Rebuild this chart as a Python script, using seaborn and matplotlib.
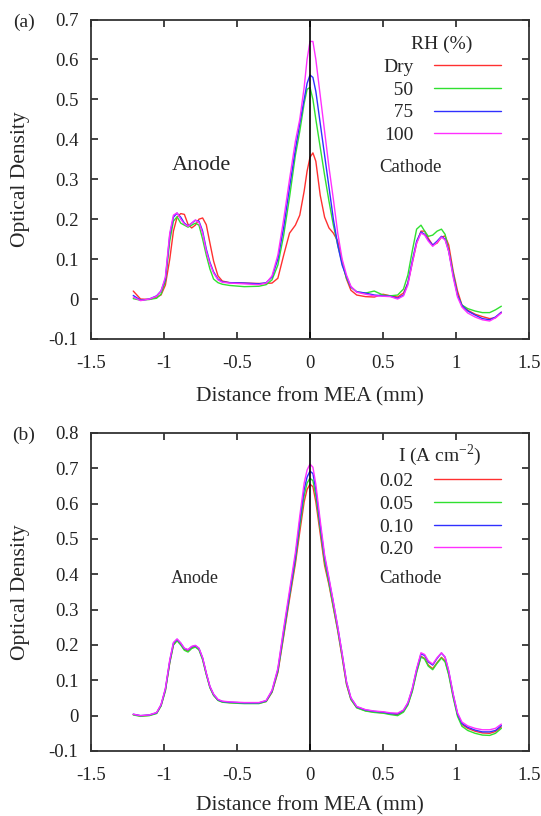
import numpy as np
import pandas as pd
import seaborn as sns
import matplotlib.pyplot as plt
from matplotlib.ticker import FuncFormatter, MultipleLocator

# positions along the cell (mm), shared by all curves
dist = [-1.21, -1.16, -1.10, -1.05, -1.02, -0.99, -0.96, -0.935, -0.91, -0.885,
        -0.86, -0.835, -0.81, -0.785, -0.76, -0.735, -0.71, -0.685, -0.66, -0.63,
        -0.60, -0.55, -0.45, -0.35, -0.30, -0.26, -0.22, -0.18, -0.14, -0.10,
        -0.07, -0.04, -0.02, 0.0, 0.02, 0.04, 0.07, 0.10, 0.13, 0.16,
        0.19, 0.22, 0.25, 0.28, 0.32, 0.38, 0.44, 0.50, 0.55, 0.60,
        0.64, 0.67, 0.70, 0.73, 0.76, 0.785, 0.81, 0.84, 0.87, 0.90,
        0.925, 0.95, 0.98, 1.01, 1.04, 1.08, 1.13, 1.18, 1.23, 1.27, 1.31]

# (a) relative humidity
rh_labels = ["Dry", "\u200750", "\u200775", "100"]
od_dry = [0.020, 0.000, -0.001, 0.005, 0.010, 0.035, 0.100, 0.170, 0.205, 0.214,
          0.212, 0.187, 0.178, 0.185, 0.200, 0.203, 0.186, 0.140, 0.095, 0.058,
          0.045, 0.041, 0.040, 0.039, 0.039, 0.040, 0.052, 0.110, 0.165, 0.185,
          0.210, 0.270, 0.320, 0.355, 0.366, 0.345, 0.260, 0.205, 0.178, 0.165,
          0.145, 0.095, 0.050, 0.022, 0.010, 0.006, 0.005, 0.012, 0.008, 0.005,
          0.015, 0.040, 0.090, 0.140, 0.170, 0.170, 0.152, 0.135, 0.140, 0.155,
          0.158, 0.135, 0.070, 0.020, -0.015, -0.028, -0.038, -0.044, -0.049, -0.047, -0.033]
od_rh50 = [0.001, -0.003, -0.001, 0.002, 0.012, 0.045, 0.145, 0.195, 0.206, 0.190,
           0.185, 0.180, 0.185, 0.190, 0.185, 0.150, 0.110, 0.075, 0.050, 0.041,
           0.037, 0.034, 0.031, 0.032, 0.036, 0.048, 0.085, 0.160, 0.255, 0.360,
           0.420, 0.490, 0.525, 0.530, 0.500, 0.450, 0.380, 0.310, 0.245, 0.185,
           0.135, 0.090, 0.052, 0.030, 0.018, 0.015, 0.020, 0.010, 0.008, 0.010,
           0.025, 0.060, 0.120, 0.175, 0.185, 0.170, 0.157, 0.160, 0.170, 0.175,
           0.162, 0.120, 0.065, 0.010, -0.015, -0.024, -0.030, -0.034, -0.034, -0.027, -0.018]
od_rh75 = [0.009, -0.003, 0.000, 0.008, 0.020, 0.050, 0.160, 0.205, 0.215, 0.205,
           0.190, 0.183, 0.190, 0.197, 0.195, 0.170, 0.125, 0.092, 0.068, 0.050,
           0.043, 0.041, 0.040, 0.038, 0.041, 0.055, 0.100, 0.180, 0.280, 0.375,
           0.440, 0.500, 0.540, 0.561, 0.555, 0.520, 0.440, 0.360, 0.280, 0.200,
           0.135, 0.085, 0.056, 0.030, 0.018, 0.015, 0.010, 0.008, 0.007, 0.002,
           0.010, 0.040, 0.095, 0.145, 0.168, 0.162, 0.148, 0.135, 0.145, 0.157,
           0.150, 0.120, 0.060, 0.010, -0.016, -0.030, -0.040, -0.049, -0.052, -0.045, -0.033]
od_rh100 = [0.005, -0.004, 0.000, 0.007, 0.020, 0.055, 0.165, 0.210, 0.216, 0.200,
            0.188, 0.182, 0.190, 0.198, 0.192, 0.165, 0.120, 0.088, 0.065, 0.048,
            0.042, 0.040, 0.038, 0.036, 0.040, 0.058, 0.110, 0.200, 0.300, 0.395,
            0.450, 0.530, 0.600, 0.645, 0.645, 0.600, 0.510, 0.420, 0.330, 0.250,
            0.165, 0.100, 0.060, 0.032, 0.017, 0.012, 0.008, 0.007, 0.006, 0.000,
            0.008, 0.035, 0.090, 0.140, 0.165, 0.160, 0.145, 0.132, 0.142, 0.155,
            0.148, 0.118, 0.055, 0.005, -0.020, -0.035, -0.045, -0.052, -0.055, -0.047, -0.035]

# (b) current density
cur_labels = ["0.02", "0.05", "0.10", "0.20"]
od_i002 = [0.003, -0.001, 0.001, 0.007, 0.028, 0.072, 0.150, 0.200, 0.213, 0.202,
           0.187, 0.182, 0.192, 0.196, 0.188, 0.160, 0.118, 0.080, 0.058, 0.044,
           0.039, 0.037, 0.035, 0.035, 0.040, 0.066, 0.122, 0.225, 0.330, 0.430,
           0.520, 0.605, 0.640, 0.655, 0.648, 0.605, 0.515, 0.425, 0.370, 0.305,
           0.240, 0.165, 0.088, 0.046, 0.023, 0.014, 0.010, 0.008, 0.005, 0.003,
           0.012, 0.032, 0.070, 0.125, 0.168, 0.162, 0.143, 0.133, 0.150, 0.165,
           0.155, 0.118, 0.055, 0.002, -0.025, -0.036, -0.044, -0.049, -0.050, -0.045, -0.032]
od_i005 = [0.002, -0.002, 0.000, 0.006, 0.027, 0.070, 0.150, 0.200, 0.212, 0.200,
           0.185, 0.180, 0.190, 0.194, 0.186, 0.158, 0.116, 0.079, 0.057, 0.043,
           0.038, 0.036, 0.034, 0.034, 0.040, 0.067, 0.125, 0.230, 0.338, 0.440,
           0.535, 0.622, 0.658, 0.672, 0.665, 0.622, 0.528, 0.435, 0.375, 0.308,
           0.243, 0.168, 0.090, 0.046, 0.022, 0.013, 0.009, 0.007, 0.003, 0.000,
           0.010, 0.030, 0.068, 0.122, 0.166, 0.160, 0.140, 0.130, 0.148, 0.163,
           0.152, 0.115, 0.052, -0.002, -0.030, -0.042, -0.050, -0.055, -0.056, -0.050, -0.036]
od_i010 = [0.004, 0.000, 0.002, 0.008, 0.030, 0.075, 0.155, 0.205, 0.216, 0.205,
           0.190, 0.186, 0.195, 0.198, 0.190, 0.163, 0.120, 0.082, 0.060, 0.045,
           0.040, 0.038, 0.036, 0.036, 0.042, 0.070, 0.130, 0.240, 0.345, 0.450,
           0.550, 0.640, 0.675, 0.692, 0.685, 0.640, 0.540, 0.448, 0.385, 0.320,
           0.250, 0.175, 0.095, 0.050, 0.025, 0.016, 0.012, 0.010, 0.006, 0.005,
           0.015, 0.035, 0.075, 0.130, 0.175, 0.170, 0.152, 0.143, 0.162, 0.177,
           0.165, 0.125, 0.060, 0.005, -0.022, -0.033, -0.041, -0.046, -0.046, -0.042, -0.028]
od_i020 = [0.004, 0.000, 0.002, 0.009, 0.031, 0.077, 0.158, 0.207, 0.217, 0.206,
           0.191, 0.187, 0.196, 0.199, 0.191, 0.164, 0.121, 0.083, 0.061, 0.046,
           0.041, 0.039, 0.037, 0.037, 0.043, 0.072, 0.134, 0.248, 0.355, 0.462,
           0.565, 0.658, 0.695, 0.712, 0.703, 0.655, 0.552, 0.455, 0.390, 0.322,
           0.252, 0.176, 0.096, 0.051, 0.026, 0.017, 0.013, 0.011, 0.008, 0.007,
           0.016, 0.037, 0.077, 0.133, 0.178, 0.173, 0.155, 0.146, 0.164, 0.178,
           0.166, 0.127, 0.062, 0.008, -0.018, -0.029, -0.036, -0.040, -0.040, -0.036, -0.024]

colors = ["#ff3030", "#30e030", "#3030ff", "#ff30ff"]

sns.set_style("ticks")
plt.rcParams["font.family"] = ["Liberation Serif", "DejaVu Serif"]
plt.rcParams["mathtext.fontset"] = "custom"
plt.rcParams["mathtext.rm"] = "Liberation Serif"
plt.rcParams["axes.unicode_minus"] = False


def long_df(series, labels):
    frames = []
    for lab, vals in zip(labels, series):
        frames.append(pd.DataFrame({"dist": dist, "od": vals, "group": lab}))
    return pd.concat(frames, ignore_index=True)


def style_axis(ax, ymax, xlab_y):
    ax.set_xlim(-1.5, 1.5)
    ax.set_ylim(-0.1, ymax)
    ax.xaxis.set_major_locator(MultipleLocator(0.5))
    ax.yaxis.set_major_locator(MultipleLocator(0.1))
    fmt = FuncFormatter(lambda v, p: f"{round(v, 2):g}")
    ax.xaxis.set_major_formatter(fmt)
    ax.yaxis.set_major_formatter(fmt)
    ax.tick_params(direction="in", length=5, width=1.2, top=True, right=True,
                   labelsize=13.5, colors="#222222")
    ax.tick_params(axis="x", pad=11.5)
    ax.tick_params(axis="y", pad=9)
    for sp in ax.spines.values():
        sp.set_linewidth(1.3)
        sp.set_color("#333333")
    ax.axvline(0, color="black", lw=1.2)
    ax.set_xlabel("Distance from MEA (mm)", fontsize=15.5)
    ax.set_ylabel("Optical Density", fontsize=15.5)
    ax.xaxis.set_label_coords(0.5, xlab_y)
    ax.yaxis.set_label_coords(-0.14, 0.5)


fig = plt.figure(figsize=(5.41, 8.16), dpi=100)
ax1 = fig.add_axes([0.168, 0.5846, 0.810, 0.3915])
ax2 = fig.add_axes([0.168, 0.0797, 0.810, 0.3897])

leg_kw = dict(loc="upper right", frameon=False, markerfirst=False,
              fontsize=14, title_fontsize=14, handlelength=3.45, handletextpad=1.05,
              labelspacing=0.26, borderpad=0, borderaxespad=0)

# panel (a)
df_a = long_df([od_dry, od_rh50, od_rh75, od_rh100], rh_labels)
sns.lineplot(data=df_a, x="dist", y="od", hue="group", hue_order=rh_labels,
             palette=colors, lw=1.0, legend=False, ax=ax1)
style_axis(ax1, 0.7, -0.15)
ax1.legend(ax1.get_lines()[:4], rh_labels, title="RH (%)",
           bbox_to_anchor=(0.936, 0.948), **leg_kw)
ax1.text(-0.74, 0.335, "Anode", fontsize=16, ha="center", va="center")
ax1.text(0.69, 0.33, "Cathode", fontsize=13.5, ha="center", va="center")

# panel (b)
df_b = long_df([od_i002, od_i005, od_i010, od_i020], cur_labels)
sns.lineplot(data=df_b, x="dist", y="od", hue="group", hue_order=cur_labels,
             palette=colors, lw=1.0, legend=False, ax=ax2)
style_axis(ax2, 0.8, -0.143)
ax2.legend(ax2.get_lines()[:4], cur_labels, title="I (A cm$^{\\mathregular{-2}}$)",
           bbox_to_anchor=(0.936, 0.972), **leg_kw)
ax2.text(-0.79, 0.387, "Anode", fontsize=13, ha="center", va="center")
ax2.text(0.69, 0.387, "Cathode", fontsize=13.5, ha="center", va="center")

fig.text(24 / 541, 1 - 22 / 816, "(a)", fontsize=14, ha="center", va="center")
fig.text(24 / 541, 1 - 435 / 816, "(b)", fontsize=14, ha="center", va="center")

fig.savefig("out.png", dpi=100)
